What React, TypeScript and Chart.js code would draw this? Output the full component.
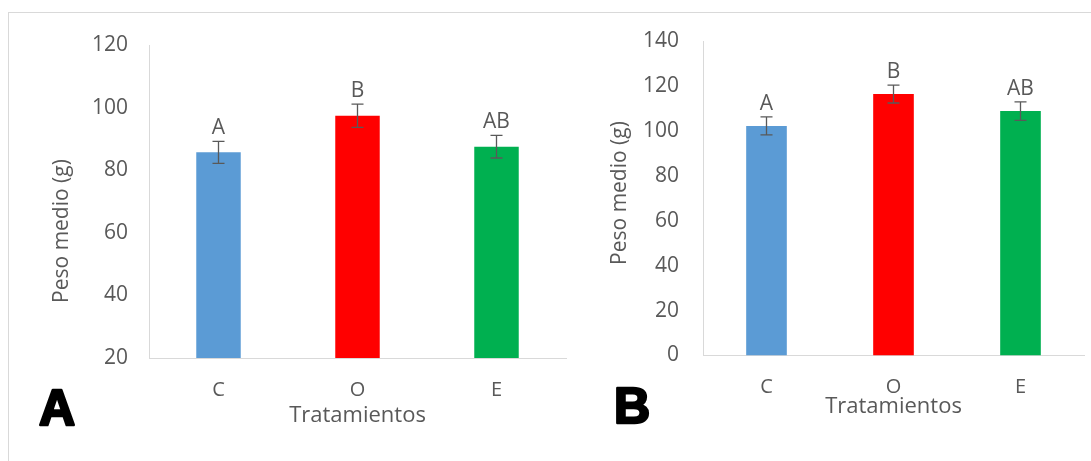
import React, { useEffect, useRef } from "react";
import { Chart, registerables } from "chart.js";

Chart.register(...registerables);

// ---- data ----
const categories = ["C", "O", "E"];
const barColors = ["#5B9BD5", "#FF0000", "#00B050"];

const valuesA = [85.7, 97.4, 87.5];
const errorsA = [3.5, 3.7, 3.6];
const lettersA = ["A", "B", "AB"];
const yRangeA = [20, 120];

const valuesB = [102.2, 116.4, 108.8];
const errorsB = [4.0, 4.0, 4.1];
const lettersB = ["A", "B", "AB"];
const yRangeB = [0, 140];

const yStep = 20;
const panelLabels = ["A", "B"];
const xTitle = "Tratamientos";
const yTitle = "Peso medio (g)";

const FONT = "'Open Sans', 'Noto Sans', sans-serif";
const TEXT = "#595959";
const AXIS = "#d9d9d9";

type Layout = {
  width: number;
  padRight: number;
  padTop: number;
  padBottom: number;
  yWidth: number;
  xHeight: number;
  yTickPad: number;
  yTitleX: number;
  yTitleY: number;
  panelX: number;
  panelY: number;
};

function makeOverlay(
  values: number[],
  errors: number[],
  letters: string[],
  panel: string,
  L: Layout
) {
  return {
    id: "overlay",
    afterDatasetsDraw(chart: any) {
      const ctx = chart.ctx as CanvasRenderingContext2D;
      const ys = chart.scales.y;
      const meta = chart.getDatasetMeta(0);
      ctx.save();
      meta.data.forEach((bar: any, i: number) => {
        const x = bar.x;
        const yTop = ys.getPixelForValue(values[i] + errors[i]);
        const yBot = ys.getPixelForValue(values[i] - errors[i]);
        ctx.strokeStyle = TEXT;
        ctx.lineWidth = 1.3;
        ctx.beginPath();
        ctx.moveTo(x, yTop);
        ctx.lineTo(x, yBot);
        ctx.moveTo(x - 6, yTop);
        ctx.lineTo(x + 6, yTop);
        ctx.moveTo(x - 6, yBot);
        ctx.lineTo(x + 6, yBot);
        ctx.stroke();
        ctx.fillStyle = TEXT;
        ctx.font = `21px ${FONT}`;
        ctx.textAlign = "center";
        ctx.textBaseline = "alphabetic";
        ctx.fillText(letters[i], x, yTop - 7);
      });
      // y axis title
      ctx.save();
      ctx.translate(L.yTitleX, L.yTitleY);
      ctx.rotate(-Math.PI / 2);
      ctx.fillStyle = TEXT;
      ctx.font = `21px ${FONT}`;
      ctx.textAlign = "center";
      ctx.textBaseline = "middle";
      ctx.fillText(yTitle, 0, 0);
      ctx.restore();
      // panel label
      ctx.fillStyle = "#000";
      ctx.strokeStyle = "#000";
      ctx.lineWidth = 2.5;
      ctx.lineJoin = "round";
      ctx.font = `bold 50px 'Liberation Sans', Arial, sans-serif`;
      ctx.textAlign = "left";
      ctx.textBaseline = "alphabetic";
      ctx.fillText(panel, L.panelX, L.panelY);
      ctx.strokeText(panel, L.panelX, L.panelY);
      ctx.restore();
    },
  };
}

function makeConfig(
  values: number[],
  errors: number[],
  letters: string[],
  range: number[],
  panel: string,
  L: Layout
): any {
  return {
    type: "bar",
    data: {
      labels: categories,
      datasets: [
        {
          data: values,
          backgroundColor: barColors,
          borderWidth: 0,
          barPercentage: 0.32,
          categoryPercentage: 1,
        },
      ],
    },
    options: {
      responsive: false,
      animation: false,
      events: [],
      layout: {
        padding: { left: 0, right: L.padRight, top: L.padTop, bottom: L.padBottom },
      },
      plugins: { legend: { display: false }, tooltip: { enabled: false } },
      scales: {
        x: {
          grid: { display: false, drawTicks: false },
          border: { color: AXIS, width: 1 },
          ticks: { color: TEXT, font: { family: FONT, size: 20 }, padding: 20 },
          title: {
            display: true,
            text: xTitle,
            color: TEXT,
            font: { family: FONT, size: 22 },
            padding: 0,
          },
          afterFit: (s: any) => {
            s.height = L.xHeight;
          },
        },
        y: {
          min: range[0],
          max: range[1],
          grid: { display: false, drawTicks: false },
          border: { color: AXIS, width: 1 },
          ticks: {
            stepSize: yStep,
            color: TEXT,
            font: { family: FONT, size: 21 },
            padding: L.yTickPad,
          },
          afterFit: (s: any) => {
            s.width = L.yWidth;
          },
        },
      },
    },
    plugins: [makeOverlay(values, errors, letters, panel, L)],
  };
}

const layoutA: Layout = {
  width: 590,
  padRight: 24,
  padTop: 45,
  padBottom: 31.8,
  yWidth: 149,
  xHeight: 71.2,
  yTickPad: 21,
  yTitleX: 62,
  yTitleY: 231,
  panelX: 39,
  panelY: 425,
};

const layoutB: Layout = {
  width: 501,
  padRight: 7,
  padTop: 41,
  padBottom: 40.8,
  yWidth: 113,
  xHeight: 64.7,
  yTickPad: 24,
  yTitleX: 30,
  yTitleY: 193,
  panelX: 24,
  panelY: 423,
};

export default function App() {
  const refA = useRef<HTMLCanvasElement>(null);
  const refB = useRef<HTMLCanvasElement>(null);

  useEffect(() => {
    const a = new Chart(
      refA.current!,
      makeConfig(valuesA, errorsA, lettersA, yRangeA, panelLabels[0], layoutA)
    );
    const b = new Chart(
      refB.current!,
      makeConfig(valuesB, errorsB, lettersB, yRangeB, panelLabels[1], layoutB)
    );
    return () => {
      a.destroy();
      b.destroy();
    };
  }, []);

  return (
    <div
      style={{
        position: "absolute",
        left: 0,
        top: 0,
        width: 1091,
        height: 461,
        overflow: "hidden",
        background: "#fff",
      }}
    >
      <div
        style={{
          position: "absolute",
          left: 8,
          top: 12,
          width: 1200,
          height: 600,
          border: `1px solid ${AXIS}`,
        }}
      />
      <canvas
        ref={refA}
        width={590}
        height={461}
        style={{ position: "absolute", left: 0, top: 0 }}
      />
      <canvas
        ref={refB}
        width={501}
        height={461}
        style={{ position: "absolute", left: 590, top: 0 }}
      />
    </div>
  );
}
